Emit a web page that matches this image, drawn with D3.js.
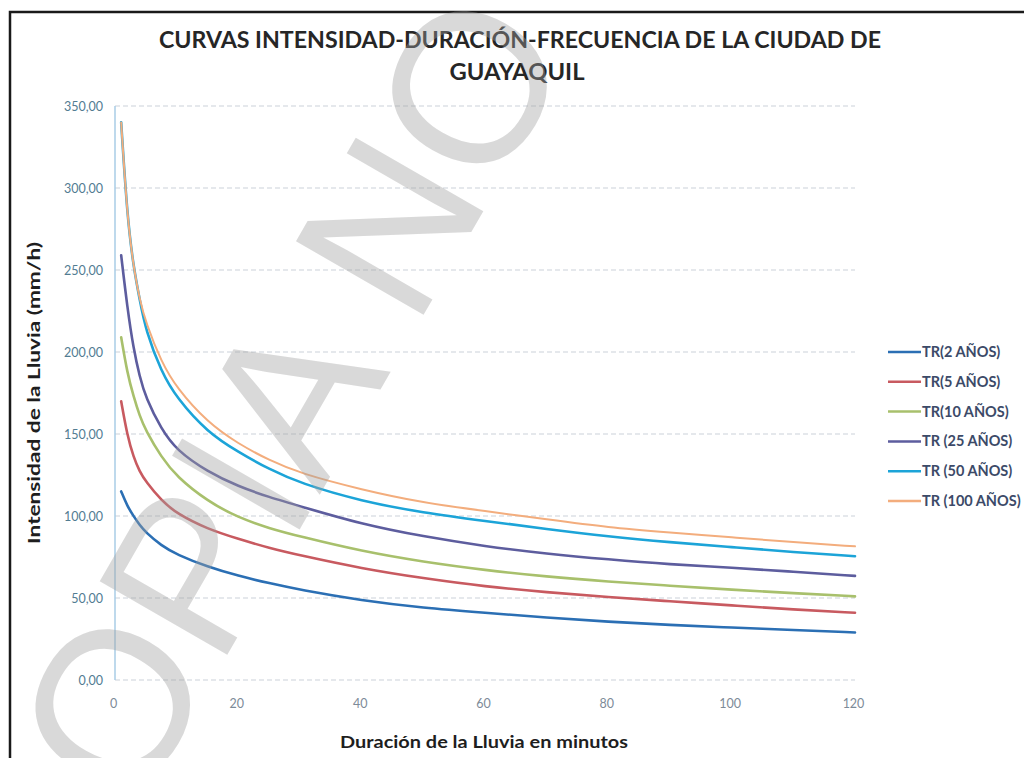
<!DOCTYPE html>
<html>
<head>
<meta charset="utf-8">
<script src="https://cdn.jsdelivr.net/npm/d3@7"></script>
<style>
  body { margin: 0; background: #fff; }
  svg { display: block; }
</style>
</head>
<body>
<div id="chart"></div>
<script>
const durations = [1, 2, 3, 4, 5, 7.5, 10, 15, 20, 25, 30, 40, 50, 60, 70, 80, 90, 100, 110, 120];

const tr2   = [115, 106, 100, 94.5, 90, 82, 76.5, 69, 63.5, 59, 55, 48.5, 44, 41, 38, 35.5, 33.5, 32, 30.5, 29];
const tr5   = [170, 149, 136, 127, 121, 109.5, 101.5, 92, 86, 80.5, 76, 68, 62, 57, 53.5, 50.5, 48, 45.5, 43, 41];
const tr10  = [209, 187, 173, 161, 152, 136, 124, 109, 99, 92.5, 87.5, 78.5, 72, 67, 63, 60, 57.5, 55, 53, 51];
const tr25  = [259, 227, 202, 185, 172, 153, 140, 127, 118, 111.5, 106, 95, 87.5, 81.5, 77, 73.5, 70.5, 68.5, 66, 63.5];
const tr50  = [340, 282, 252, 232, 213, 188, 172, 151, 139, 128.5, 120, 109, 102, 97, 92, 87.5, 84, 81, 78, 75.5];
const tr100 = [340, 282, 252, 232, 218, 194, 178, 157, 144, 134, 126, 116, 108, 103, 98, 93, 90, 87, 84, 81.5];

const seriesNames = ["TR(2 AÑOS)", "TR(5 AÑOS)", "TR(10 AÑOS)", "TR (25 AÑOS)", "TR (50 AÑOS)", "TR (100 AÑOS)"];
const seriesValues = [tr2, tr5, tr10, tr25, tr50, tr100];
const colors = ["#2b6fb4", "#c85a60", "#a8c06c", "#5d5d9e", "#1ca4d8", "#f3ad7d"];

const yTicks = [0, 50, 100, 150, 200, 250, 300, 350];
const xTicks = [0, 20, 40, 60, 80, 100, 120];

const width = 1024;
const height = 758;

const svg = d3.select("#chart")
    .append("svg")
    .attr("width", width)
    .attr("height", height)
    .style("font-family", "Lato, 'Open Sans', sans-serif");

svg.append("rect")
    .attr("width", width)
    .attr("height", height)
    .attr("fill", "#fff");

// black frame of the scanned page
svg.append("path")
    .attr("d", "M10,760 L10,12 L1030,12")
    .attr("fill", "none")
    .attr("stroke", "#1a1a1a")
    .attr("stroke-width", 2.5);

const x = d3.scaleLinear().domain([0, 120]).range([115, 855]);
const y = d3.scaleLinear().domain([0, 350]).range([680, 106]);

// gridlines
svg.append("g")
    .selectAll("line")
    .data(yTicks)
    .enter()
    .append("line")
    .attr("x1", x(0))
    .attr("x2", x(120))
    .attr("y1", d => y(d))
    .attr("y2", d => y(d))
    .attr("stroke", "#cbd2d9")
    .attr("stroke-width", 1.2)
    .attr("stroke-dasharray", "5,3");

// y axis line
svg.append("line")
    .attr("x1", x(0))
    .attr("x2", x(0))
    .attr("y1", y(0))
    .attr("y2", y(350))
    .attr("stroke", "#a9cde6")
    .attr("stroke-width", 1.5);

const yAxis = d3.axisLeft(y)
    .tickValues(yTicks)
    .tickSize(0)
    .tickPadding(12)
    .tickFormat(d => d3.format(".2f")(d).replace(".", ","));

svg.append("g")
    .attr("transform", `translate(${x(0)},0)`)
    .call(yAxis)
    .call(g => g.select(".domain").remove())
    .selectAll("text")
    .attr("font-size", "12.5px")
    .attr("font-family", "Lato, sans-serif")
    .attr("fill", "#527c92");

const xAxis = d3.axisBottom(x)
    .tickValues(xTicks)
    .tickSize(0)
    .tickPadding(19);

svg.append("g")
    .attr("transform", `translate(0,${y(0)})`)
    .call(xAxis)
    .call(g => g.select(".domain").remove())
    .selectAll("text")
    .attr("font-size", "12.5px")
    .attr("font-family", "Lato, sans-serif")
    .attr("fill", "#7d8b98")
    .attr("dx", "-2");

// curves
const line = d3.line()
    .x(d => x(d.t))
    .y(d => y(d.v))
    .curve(d3.curveBasis);

seriesValues.forEach((vals, i) => {
    const pts = durations.map((t, j) => ({ t, v: vals[j] }));
    svg.append("path")
        .datum(pts)
        .attr("fill", "none")
        .attr("stroke", colors[i])
        .attr("stroke-width", i === 5 ? 2 : 2.6)
        .attr("stroke-linecap", "round")
        .attr("d", line);
});

// titles
svg.append("text")
    .attr("x", 520)
    .attr("y", 48)
    .attr("text-anchor", "middle")
    .attr("font-size", "22px")
    .attr("font-weight", "bold")
    .attr("fill", "#262626")
    .attr("textLength", 722)
    .attr("lengthAdjust", "spacingAndGlyphs")
    .text("CURVAS INTENSIDAD-DURACIÓN-FRECUENCIA DE LA CIUDAD DE");

svg.append("text")
    .attr("x", 517)
    .attr("y", 80)
    .attr("text-anchor", "middle")
    .attr("font-size", "22px")
    .attr("font-weight", "bold")
    .attr("fill", "#262626")
    .attr("textLength", 135)
    .attr("lengthAdjust", "spacingAndGlyphs")
    .text("GUAYAQUIL");

svg.append("text")
    .attr("transform", "translate(40,393) rotate(-90)")
    .attr("text-anchor", "middle")
    .attr("font-size", "17.5px")
    .attr("font-weight", "bold")
    .attr("fill", "#1e1e1e")
    .attr("textLength", 302)
    .attr("lengthAdjust", "spacingAndGlyphs")
    .text("Intensidad de la Lluvia (mm/h)");

svg.append("text")
    .attr("x", 484)
    .attr("y", 748)
    .attr("text-anchor", "middle")
    .attr("font-size", "17.5px")
    .attr("font-weight", "bold")
    .attr("fill", "#1e1e1e")
    .attr("textLength", 288)
    .attr("lengthAdjust", "spacingAndGlyphs")
    .text("Duración de la Lluvia en minutos");

// legend
const legend = svg.append("g")
    .attr("transform", "translate(888,352)");

seriesNames.forEach((name, i) => {
    const row = legend.append("g")
        .attr("transform", `translate(0,${i * 29.8})`);
    row.append("line")
        .attr("x1", 0)
        .attr("x2", 33)
        .attr("y1", 0)
        .attr("y2", 0)
        .attr("stroke", colors[i])
        .attr("stroke-width", 2.5);
    row.append("text")
        .attr("x", 34)
        .attr("y", 5)
        .attr("font-size", "14.5px")
        .attr("font-weight", "bold")
        .attr("fill", "#3c4a68")
        .text(name);
});

// watermark stamp
svg.append("text")
    .attr("transform", "translate(58,948) rotate(-60)")
    .attr("font-family", "'Liberation Sans', Arial, sans-serif")
    .attr("font-size", "214px")
    .attr("fill", "#a0a0a0")
    .attr("fill-opacity", 0.4)
    .text("COPIA NO CONTROLADA");
</script>
</body>
</html>
